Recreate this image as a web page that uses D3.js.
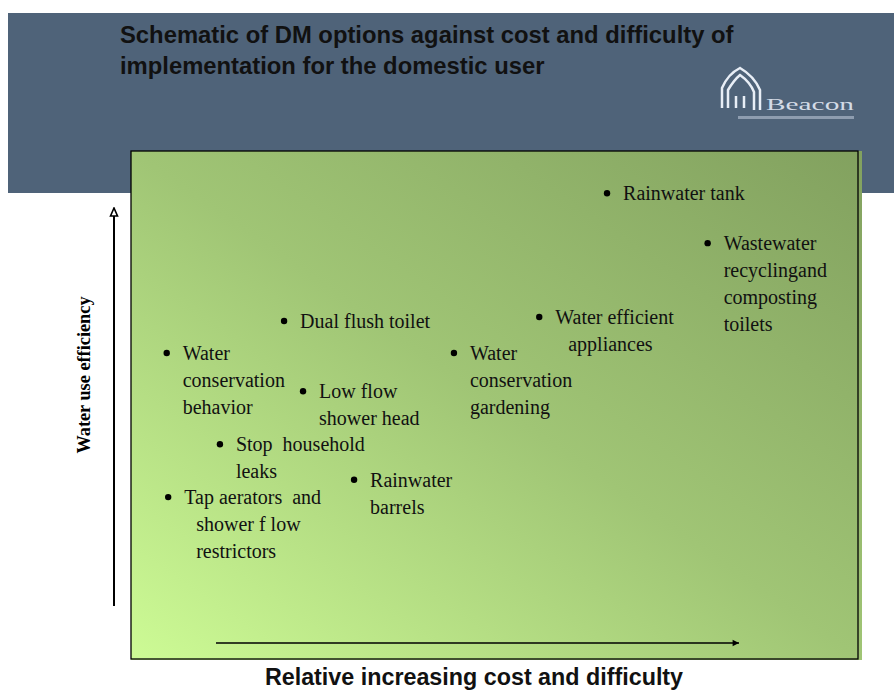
<!DOCTYPE html>
<html>
<head>
<meta charset="utf-8">
<script src="https://cdn.jsdelivr.net/npm/d3@7"></script>
<style>
  body { margin: 0; background: #fff; }
  svg { display: block; }
</style>
</head>
<body>
<div id="chart"></div>
<script>
// DM options: relative cost/difficulty (x, 0-10) vs water use efficiency (y, 0-10)
var options = [
  ["Rainwater tank"],
  ["Wastewater", "recyclingand", "composting", "toilets"],
  ["Dual flush toilet"],
  ["Water efficient", "appliances"],
  ["Water", "conservation", "behavior"],
  ["Water", "conservation", "gardening"],
  ["Low flow", "shower head"],
  ["Stop  household", "leaks"],
  ["Rainwater", "barrels"],
  ["Tap aerators  and", "shower f low", "restrictors"]
];
var costValues = [6.53, 7.91, 2.10, 5.60, 0.49, 4.43, 2.36, 1.22, 3.06, 0.51];
var efficiencyValues = [9.17, 8.19, 6.66, 6.74, 6.03, 6.03, 5.28, 4.24, 3.54, 3.20];
var wrapIndent = [0, 0, 0, 13, 0, 0, 0, 0, 0, 12];

var titleLines = ["Schematic of DM options against cost and difficulty of",
                  "implementation for the domestic user"];
var xTitle = "Relative increasing cost and difficulty";
var yTitle = "Water use efficiency";

var width = 894, height = 692;
var box = {left: 131, top: 151, right: 858, bottom: 659};

var svg = d3.select("#chart").append("svg")
  .attr("width", width).attr("height", height);

var defs = svg.append("defs");
var grad = defs.append("linearGradient").attr("id", "bg")
  .attr("x1", 0).attr("y1", 1).attr("x2", 1).attr("y2", 0);
grad.append("stop").attr("offset", 0).attr("stop-color", "#cdfb95");
grad.append("stop").attr("offset", 0.5).attr("stop-color", "#a0c575");
grad.append("stop").attr("offset", 1).attr("stop-color", "#82a15f");

// both heads drawn pointing along +x, orient auto turns them
defs.append("marker").attr("id", "headOpen")
  .attr("viewBox", "0 0 10 10").attr("refX", 8).attr("refY", 5)
  .attr("markerWidth", 11).attr("markerHeight", 10).attr("markerUnits", "userSpaceOnUse")
  .attr("orient", "auto")
  .append("path").attr("d", "M1,1.5 L9,5 L1,8.5 Z")
  .attr("fill", "#fff").attr("stroke", "#000").attr("stroke-width", 1.6);

defs.append("marker").attr("id", "headRight")
  .attr("viewBox", "0 0 10 10").attr("refX", 9).attr("refY", 5)
  .attr("markerWidth", 8).attr("markerHeight", 8).attr("markerUnits", "userSpaceOnUse")
  .attr("orient", "auto")
  .append("path").attr("d", "M1,1 L9,5 L1,9 Z").attr("fill", "#000");

// header band
svg.append("rect").attr("x", 8).attr("y", 13).attr("width", width - 8).attr("height", 180)
  .attr("fill", "#4f6379");

svg.selectAll("text.title").data(titleLines).enter().append("text")
  .attr("class", "title")
  .attr("x", 120).attr("y", function(d, i) { return 43 + i * 31; })
  .attr("font-family", "Liberation Sans, Arial, sans-serif")
  .attr("font-weight", "bold").attr("font-size", 23.8).attr("fill", "#111")
  .text(function(d) { return d; });

// logo
var logo = svg.append("g").attr("transform", "translate(718,66)");
logo.append("path")
  .attr("d", "M4,42 L4,22 Q10,8 22,2 Q36,10 42,24 L42,44 M10,42 L10,24 Q16,14 22,9 Q32,16 36,26 L36,44 M18,42 L18,30 M26,42 L26,30")
  .attr("fill", "none").attr("stroke", "#e8eef6").attr("stroke-width", 2.5);
logo.append("text").attr("x", 48).attr("y", 44)
  .attr("font-family", "Liberation Serif, serif").attr("font-size", 17)
  .attr("fill", "#d4dbe6").attr("textLength", 88).attr("lengthAdjust", "spacingAndGlyphs")
  .text("Beacon");
logo.append("rect").attr("x", 20).attr("y", 50).attr("width", 116).attr("height", 3)
  .attr("fill", "#8e9db0");

// plot area
svg.append("rect").attr("x", box.left).attr("y", box.top)
  .attr("width", box.right - box.left + 4).attr("height", box.bottom - box.top + 1)
  .attr("fill", "url(#bg)");
svg.append("rect").attr("x", box.left).attr("y", box.top)
  .attr("width", box.right - box.left).attr("height", box.bottom - box.top)
  .attr("fill", "none").attr("stroke", "#000").attr("stroke-width", 1.3);

var x = d3.scaleLinear().domain([0, 10]).range([box.left, 860]);
var y = d3.scaleLinear().domain([0, 10]).range([660, box.top]);

// axes arrows
svg.append("line").attr("x1", 114).attr("y1", 606).attr("x2", 114).attr("y2", 209)
  .attr("stroke", "#000").attr("stroke-width", 2).attr("marker-end", "url(#headOpen)");
svg.append("line").attr("x1", 216).attr("y1", 643).attr("x2", 739).attr("y2", 643)
  .attr("stroke", "#000").attr("stroke-width", 1.3).attr("marker-end", "url(#headRight)");

svg.append("text")
  .attr("transform", "translate(90,375) rotate(-90)")
  .attr("text-anchor", "middle")
  .attr("font-family", "Liberation Serif, Times New Roman, serif")
  .attr("font-weight", "bold").attr("font-size", 18.3).attr("fill", "#000")
  .text(yTitle);

svg.append("text")
  .attr("x", 474).attr("y", 685).attr("text-anchor", "middle")
  .attr("font-family", "Liberation Sans, Arial, sans-serif")
  .attr("font-weight", "bold").attr("font-size", 23.3).attr("fill", "#111")
  .text(xTitle);

// options
var items = svg.selectAll("g.opt").data(options).enter().append("g")
  .attr("class", "opt")
  .attr("transform", function(d, i) {
    return "translate(" + x(costValues[i]) + "," + y(efficiencyValues[i]) + ")";
  });

items.append("circle").attr("r", 3.2).attr("fill", "#000");

items.each(function(d, i) {
  var t = d3.select(this).append("text")
    .attr("font-family", "Liberation Serif, Times New Roman, serif")
    .attr("font-size", 20).attr("fill", "#111")
    .style("white-space", "pre");
  t.selectAll("tspan").data(d).enter().append("tspan")
    .attr("x", function(s, j) { return 16 + (j > 0 ? wrapIndent[i] : 0); })
    .attr("y", function(s, j) { return 7 + j * 27; })
    .text(function(s) { return s; });
});
</script>
</body>
</html>
